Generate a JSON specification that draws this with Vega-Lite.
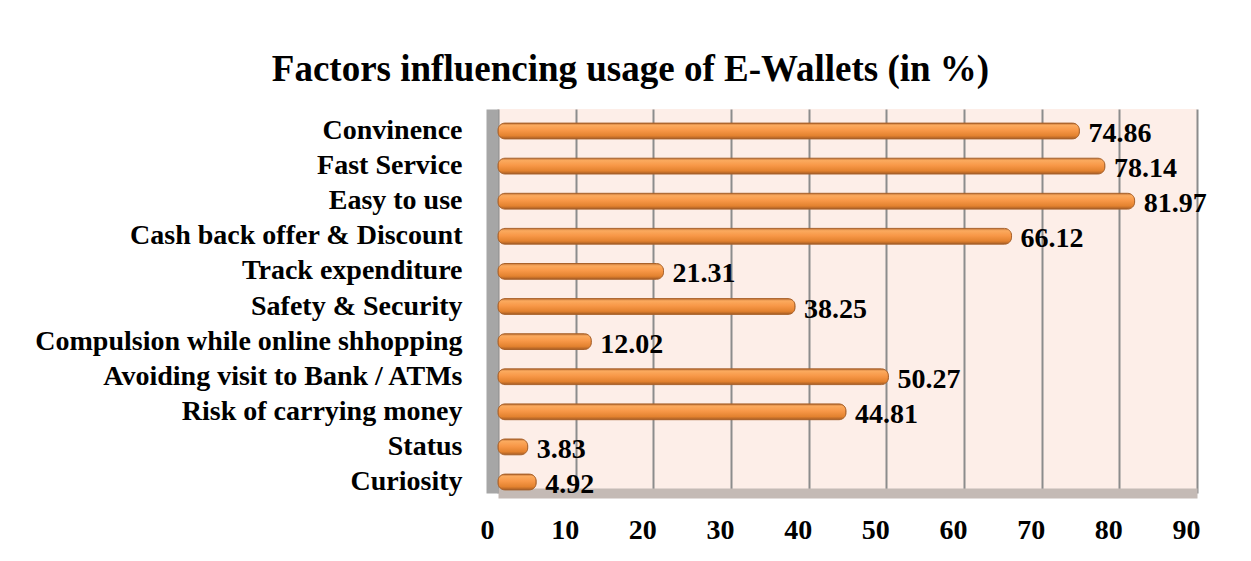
{
  "$schema": "https://vega.github.io/schema/vega-lite/v6.json",
  "width": 699,
  "height": 384,
  "autosize": {"type": "none"},
  "padding": {"left": 498, "top": 109, "right": 54, "bottom": 68},
  "background": "white",
  "title": {
    "text": "Factors influencing usage of E-Wallets (in %)",
    "font": "Liberation Serif",
    "fontWeight": "bold",
    "fontSize": 37,
    "color": "black",
    "anchor": "middle",
    "frame": "group",
    "dx": -217,
    "offset": 20
  },
  "data": {
    "values": [
      {"factor": "Convinence", "pct": 74.86},
      {"factor": "Fast Service", "pct": 78.14},
      {"factor": "Easy to use", "pct": 81.97},
      {"factor": "Cash back offer & Discount", "pct": 66.12},
      {"factor": "Track expenditure", "pct": 21.31},
      {"factor": "Safety & Security", "pct": 38.25},
      {"factor": "Compulsion while online shhopping", "pct": 12.02},
      {"factor": "Avoiding visit to Bank / ATMs", "pct": 50.27},
      {"factor": "Risk of carrying money", "pct": 44.81},
      {"factor": "Status", "pct": 3.83},
      {"factor": "Curiosity", "pct": 4.92}
    ]
  },
  "encoding": {
    "y": {
      "field": "factor",
      "type": "nominal",
      "sort": null,
      "scale": {"paddingInner": 0.55, "paddingOuter": 0.245, "align": 0.82},
      "axis": {
        "title": null,
        "ticks": false,
        "tickSize": 0,
        "grid": false,
        "labelFont": "Liberation Serif",
        "labelFontWeight": "bold",
        "labelFontSize": 28,
        "labelColor": "black",
        "labelPadding": 30,
        "labelLimit": 0,
        "offset": 6,
        "domainColor": "#a6a6a6",
        "domainWidth": 12
      }
    },
    "x": {
      "field": "pct",
      "type": "quantitative",
      "scale": {"domain": [0, 90], "nice": false},
      "axis": {
        "title": null,
        "values": [0, 10, 20, 30, 40, 50, 60, 70, 80, 90],
        "grid": true,
        "gridColor": "#8c8c8c",
        "gridWidth": 2,
        "ticks": false,
        "tickSize": 0,
        "labelFont": "Liberation Serif",
        "labelFontWeight": "bold",
        "labelFontSize": 28,
        "labelColor": "black",
        "labelPadding": 23,
        "labelOffset": -11,
        "labelFlush": false,
        "labelOverlap": false,
        "offset": 0,
        "domainColor": "#c4bab5",
        "domainWidth": 10
      }
    }
  },
  "layer": [
    {
      "mark": {
        "type": "bar",
        "cornerRadius": 7,
        "stroke": "#a9622b",
        "strokeWidth": 1,
        "color": {
          "gradient": "linear",
          "x1": 0, "y1": 0, "x2": 0, "y2": 1,
          "stops": [
            {"offset": 0, "color": "#c47538"},
            {"offset": 0.15, "color": "#fbaa5e"},
            {"offset": 0.45, "color": "#f89848"},
            {"offset": 0.8, "color": "#e3822f"},
            {"offset": 1, "color": "#a65c24"}
          ]
        }
      }
    },
    {
      "mark": {
        "type": "text",
        "align": "left",
        "baseline": "middle",
        "dx": 9,
        "dy": 3,
        "font": "Liberation Serif",
        "fontWeight": "bold",
        "fontSize": 28,
        "color": "black"
      },
      "encoding": {
        "text": {"field": "pct", "type": "quantitative", "format": ".2f"}
      }
    }
  ],
  "config": {
    "view": {"fill": "#fdeee8", "stroke": null}
  }
}
